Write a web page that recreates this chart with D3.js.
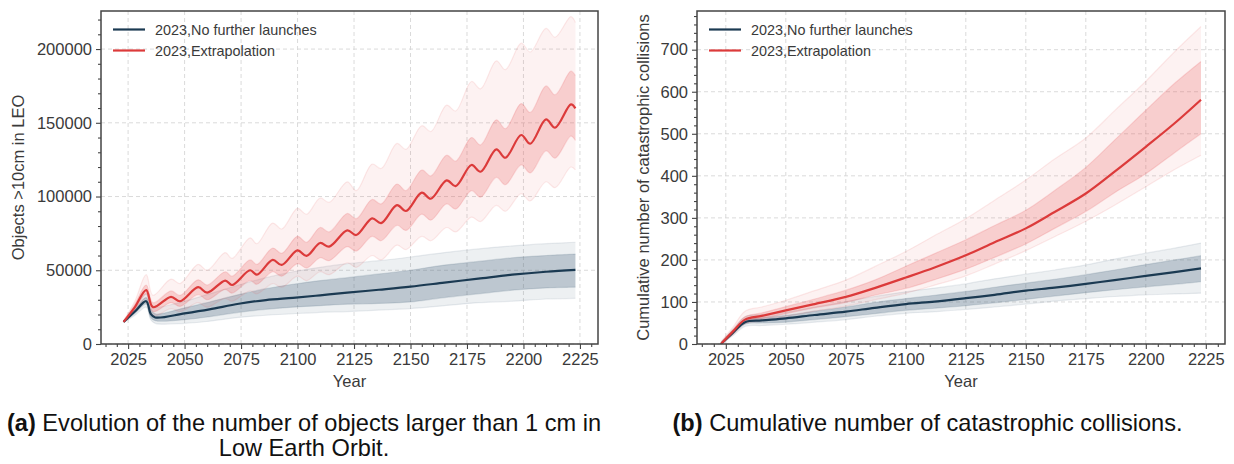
<!DOCTYPE html>
<html>
<head>
<meta charset="utf-8">
<script src="https://cdn.jsdelivr.net/npm/d3@7/dist/d3.min.js"></script>
<style>
  html, body { margin: 0; padding: 0; background: #ffffff; }
  svg { display: block; }
  text { font-family: "Liberation Sans", Arial, Helvetica, sans-serif; }
</style>
</head>
<body>
<svg id="fig" width="1234" height="464"></svg>
<script>
// ---------- Panel (a): objects > 10 cm in LEO ----------
// Extrapolation scenario: ensemble mean and spread (outer = extreme runs, core = dense bundle)
const objRedYears   = [2023, 2028, 2033, 2036, 2044, 2048, 2056, 2060, 2068, 2071, 2079, 2082, 2089, 2093, 2100, 2104, 2110, 2114, 2122, 2126, 2133, 2137, 2144, 2148, 2155, 2159, 2166, 2170, 2177, 2181, 2188, 2192, 2199, 2203, 2210, 2214, 2221, 2223];
const objRedMean    = [15000, 25000, 36500, 25000, 32000, 29000, 38500, 34800, 43000, 40000, 50000, 47000, 57000, 53600, 63500, 59700, 68500, 66000, 77000, 73900, 85200, 82000, 94200, 90200, 102600, 98500, 111000, 107100, 121400, 116800, 132000, 126300, 141700, 135800, 152300, 146700, 162500, 159800];
const objRedOuterLo = [14500, 22000, 31000, 19000, 24000, 22000, 28000, 25000, 31000, 29000, 36000, 34000, 41000, 38500, 46000, 43000, 49000, 47000, 55000, 52000, 60000, 57000, 67000, 64000, 73000, 70000, 79000, 76000, 86000, 83000, 94000, 90000, 102000, 97000, 110000, 106000, 120000, 118000];
const objRedCoreLo  = [14800, 23500, 34000, 22000, 28000, 25500, 33500, 30000, 37000, 34500, 43000, 40500, 49000, 46000, 54500, 51500, 58500, 56500, 66000, 63000, 73000, 70000, 80500, 77000, 88000, 84000, 95000, 91500, 104000, 99500, 113000, 108000, 121500, 116000, 131000, 126000, 141000, 138000];
const objRedCoreHi  = [15500, 27000, 40000, 28000, 36000, 33000, 43500, 40000, 49000, 46000, 57000, 54000, 65000, 61500, 73000, 69000, 79000, 76000, 88500, 85000, 98000, 95000, 108500, 104000, 118000, 114000, 128000, 124000, 140000, 135000, 152000, 146000, 163000, 157000, 175000, 169000, 185000, 182000];
const objRedOuterHi = [16000, 29000, 47000, 33000, 44000, 41000, 54000, 50000, 62000, 58000, 72000, 68000, 82000, 78000, 92000, 88000, 99000, 96000, 110000, 104000, 122000, 119000, 136000, 132000, 148000, 144000, 162000, 158000, 178000, 173000, 192000, 186000, 204000, 198000, 214000, 208000, 222000, 218000];

// No further launches scenario
const objNavyYears   = [2023, 2028, 2033, 2035, 2037, 2050, 2061, 2074, 2086, 2098, 2110, 2122, 2136, 2150, 2165, 2180, 2195, 2210, 2223];
const objNavyMean    = [15000, 22000, 29000, 20500, 18000, 20800, 23500, 27300, 29800, 31300, 33000, 34800, 36800, 38900, 41600, 44300, 47000, 49000, 50200];
const objNavyOuterLo = [14500, 19500, 25000, 16500, 14000, 14000, 15500, 18000, 19500, 20500, 21500, 22000, 23000, 24000, 26000, 28000, 29000, 30500, 31000];
const objNavyCoreLo  = [14800, 20800, 27000, 18000, 15800, 16500, 18500, 21500, 23500, 25000, 26000, 27000, 27500, 28500, 31500, 34000, 36500, 38000, 38500];
const objNavyCoreHi  = [15300, 23500, 31500, 23500, 20500, 24500, 28500, 33500, 37500, 40500, 43000, 45000, 47500, 50000, 53500, 56000, 58500, 60000, 61000];
const objNavyOuterHi = [15800, 25000, 34000, 27000, 25000, 29000, 34000, 40000, 45000, 49000, 52000, 54500, 56500, 59000, 62000, 64500, 66500, 68000, 69000];

const objYTicks = [0, 50000, 100000, 150000, 200000];

// ---------- Panel (b): cumulative catastrophic collisions ----------
const colYears = [2023, 2028, 2033, 2040, 2050, 2062, 2075, 2087, 2100, 2112, 2125, 2137, 2150, 2162, 2175, 2187, 2200, 2212, 2223];
const colRedMean    = [0, 30, 58, 67, 80, 95, 112, 133, 158, 182, 211, 242, 275, 314, 358, 410, 469, 525, 581];
const colRedOuterLo = [0, 22, 48, 55, 66, 78, 90, 105, 121, 140, 162, 190, 222, 255, 292, 330, 374, 415, 449];
const colRedCoreLo  = [0, 26, 54, 61, 72, 86, 99, 116, 132, 153, 178, 206, 238, 275, 315, 360, 405, 455, 500];
const colRedCoreHi  = [3, 34, 65, 74, 89, 107, 128, 152, 185, 215, 248, 282, 318, 365, 420, 485, 556, 620, 672];
const colRedOuterHi = [6, 40, 78, 88, 104, 127, 152, 184, 220, 258, 298, 342, 390, 440, 490, 555, 625, 695, 755];

const colNavyMean    = [0, 27, 52, 56, 61, 69, 77, 86, 95, 101, 109, 117, 127, 134, 143, 152, 162, 171, 180];
const colNavyOuterLo = [0, 20, 42, 44, 47, 52, 58, 66, 73, 77, 82, 88, 95, 102, 108, 113, 117, 119, 121];
const colNavyCoreLo  = [0, 24, 47, 50, 52, 58, 65, 72, 80, 85, 91, 98, 106, 114, 122, 129, 136, 142, 148];
const colNavyCoreHi  = [2, 30, 57, 62, 68, 78, 88, 99, 108, 116, 125, 135, 145, 154, 165, 176, 189, 200, 210];
const colNavyOuterHi = [4, 35, 65, 70, 76, 88, 101, 113, 124, 133, 143, 155, 166, 176, 188, 202, 216, 228, 240];

const colYTicks = [0, 100, 200, 300, 400, 500, 600, 700];

const xTicks = [2025, 2050, 2075, 2100, 2125, 2150, 2175, 2200, 2225];
const legendLabels = ["2023,No further launches", "2023,Extrapolation"];

const NAVY = "#1b3a52";
const RED = "#dc3a3a";
const NAVY_BAND = "#4f6b80";
const RED_BAND = "#ea5a5e";
const AXIS = "#444444";
const TEXT = "#3a3a3a";

const svg = d3.select("#fig");

function zipRows(years, arrays) {
  return years.map((y, i) => {
    const row = { year: y };
    for (const k in arrays) row[k] = arrays[k][i];
    return row;
  });
}

function drawPanel(cfg) {
  const { left, right, top, bottom } = cfg.box;
  const x = d3.scaleLinear().domain([2013, 2233]).range([left, right]);
  const y = d3.scaleLinear().domain(cfg.yDomain).range([bottom, top]);
  const g = svg.append("g");

  // dashed grid at the major ticks
  const grid = g.append("g").attr("stroke", "#d6d6d6").attr("stroke-width", 0.9).attr("stroke-dasharray", "4,3");
  grid.selectAll("line.vx").data(xTicks).join("line")
    .attr("x1", d => x(d)).attr("x2", d => x(d)).attr("y1", top).attr("y2", bottom);
  grid.selectAll("line.hy").data(cfg.yTicks).join("line")
    .attr("x1", left).attr("x2", right).attr("y1", d => y(d)).attr("y2", d => y(d));

  const clipId = "clip" + cfg.id;
  g.append("clipPath").attr("id", clipId).append("rect")
    .attr("x", left).attr("y", top).attr("width", right - left).attr("height", bottom - top);
  const plot = g.append("g").attr("clip-path", `url(#${clipId})`);

  const curve = d3.curveCatmullRom.alpha(0.5);
  cfg.series.forEach(s => {
    const rows = zipRows(s.years, { mean: s.mean, olo: s.outerLo, clo: s.coreLo, chi: s.coreHi, ohi: s.outerHi });
    const area = (lo, hi) => d3.area().curve(curve).x(d => x(d.year)).y0(d => y(d[lo])).y1(d => y(d[hi]));
    const line = key => d3.line().curve(curve).x(d => x(d.year)).y(d => y(d[key]));
    s.layer = plot.append("g");
    s.layer.append("path").datum(rows).attr("d", area("olo", "ohi")).attr("fill", s.band).attr("fill-opacity", s.outerOpacity);
    s.layer.append("path").datum(rows).attr("d", area("clo", "chi")).attr("fill", s.band).attr("fill-opacity", s.coreOpacity);
    ["olo", "ohi", "clo", "chi"].forEach(k => {
      s.layer.append("path").datum(rows).attr("d", line(k)).attr("fill", "none")
        .attr("stroke", s.band).attr("stroke-opacity", k[0] === "o" ? 0.12 : 0.18).attr("stroke-width", 1.2);
    });
    s.rows = rows;
    s.lineGen = line("mean");
  });
  cfg.series.forEach(s => {
    plot.append("path").datum(s.rows).attr("d", s.lineGen).attr("fill", "none")
      .attr("stroke", s.color).attr("stroke-width", 2.2).attr("stroke-linejoin", "round");
  });

  // axes: major and minor ticks pointing outward
  const xMinor = d3.range(2015, 2233, 5).filter(v => !xTicks.includes(v));
  const yMinor = d3.range(0, cfg.yDomain[1], cfg.yMinorStep).filter(v => !cfg.yTicks.includes(v));

  g.append("g").attr("transform", `translate(0,${bottom})`)
    .call(d3.axisBottom(x).tickValues(xTicks).tickFormat(d3.format("d")).tickSize(5).tickPadding(4));
  g.append("g").attr("transform", `translate(0,${bottom})`)
    .call(d3.axisBottom(x).tickValues(xMinor).tickFormat("").tickSize(3));
  g.append("g").attr("transform", `translate(${left},0)`)
    .call(d3.axisLeft(y).tickValues(cfg.yTicks).tickFormat(d3.format("d")).tickSize(5).tickPadding(4));
  g.append("g").attr("transform", `translate(${left},0)`)
    .call(d3.axisLeft(y).tickValues(yMinor).tickFormat("").tickSize(3));
  g.selectAll(".domain").remove();
  g.selectAll(".tick line").attr("stroke", AXIS).attr("stroke-width", 1.1);
  g.selectAll(".tick text").attr("fill", TEXT).style("font-size", "16.5px")
    .style("font-family", '"Liberation Sans", Arial, sans-serif');

  // frame
  g.append("rect").attr("x", left).attr("y", top).attr("width", right - left).attr("height", bottom - top)
    .attr("fill", "none").attr("stroke", AXIS).attr("stroke-width", 1.5);

  // axis titles
  g.append("text").attr("x", (left + right) / 2).attr("y", 387).attr("text-anchor", "middle")
    .attr("fill", TEXT).style("font-size", "16.5px").text("Year");
  g.append("text").attr("transform", `translate(${cfg.yLabelX},${(top + bottom) / 2}) rotate(-90)`)
    .attr("text-anchor", "middle").attr("fill", TEXT).style("font-size", "16.5px").text(cfg.yLabel);

  // legend
  const leg = g.append("g");
  [NAVY, RED].forEach((c, i) => {
    const ly = top + 18.5 + i * 21;
    leg.append("line").attr("x1", left + 12).attr("x2", left + 44).attr("y1", ly).attr("y2", ly)
      .attr("stroke", c).attr("stroke-width", 2.2);
    leg.append("text").attr("x", left + 54).attr("y", ly + 5).attr("fill", TEXT)
      .style("font-size", "14.4px").text(legendLabels[i]);
  });
}

drawPanel({
  id: "a",
  box: { left: 101, right: 598, top: 11, bottom: 344 },
  yDomain: [0, 225800],
  yTicks: objYTicks,
  yMinorStep: 10000,
  yLabel: "Objects >10cm in LEO",
  yLabelX: 24,
  series: [
    { years: objNavyYears, mean: objNavyMean, outerLo: objNavyOuterLo, coreLo: objNavyCoreLo, coreHi: objNavyCoreHi, outerHi: objNavyOuterHi, color: NAVY, band: NAVY_BAND, outerOpacity: 0.10, coreOpacity: 0.30 },
    { years: objRedYears, mean: objRedMean, outerLo: objRedOuterLo, coreLo: objRedCoreLo, coreHi: objRedCoreHi, outerHi: objRedOuterHi, color: RED, band: RED_BAND, outerOpacity: 0.08, coreOpacity: 0.24 }
  ]
});

drawPanel({
  id: "b",
  box: { left: 697, right: 1225, top: 11, bottom: 344 },
  yDomain: [0, 792],
  yTicks: colYTicks,
  yMinorStep: 20,
  yLabel: "Cumulative number of catastrophic collisions",
  yLabelX: 649,
  series: [
    { years: colYears, mean: colNavyMean, outerLo: colNavyOuterLo, coreLo: colNavyCoreLo, coreHi: colNavyCoreHi, outerHi: colNavyOuterHi, color: NAVY, band: NAVY_BAND, outerOpacity: 0.10, coreOpacity: 0.30 },
    { years: colYears, mean: colRedMean, outerLo: colRedOuterLo, coreLo: colRedCoreLo, coreHi: colRedCoreHi, outerHi: colRedOuterHi, color: RED, band: RED_BAND, outerOpacity: 0.08, coreOpacity: 0.24 }
  ]
});

// sub-figure captions
function caption(cx, lines) {
  lines.forEach((parts, i) => {
    const t = svg.append("text").attr("x", cx).attr("y", 431 + i * 25).attr("text-anchor", "middle")
      .attr("fill", "#111").style("font-size", "23.6px");
    parts.forEach(p => t.append("tspan").style("font-weight", p.bold ? "bold" : "normal").text(p.text));
  });
}
caption(304, [
  [{ text: "(a)", bold: true }, { text: " Evolution of the number of objects larger than 1 cm in" }],
  [{ text: "Low Earth Orbit." }]
]);
caption(927.5, [
  [{ text: "(b)", bold: true }, { text: " Cumulative number of catastrophic collisions." }]
]);
</script>
</body>
</html>
